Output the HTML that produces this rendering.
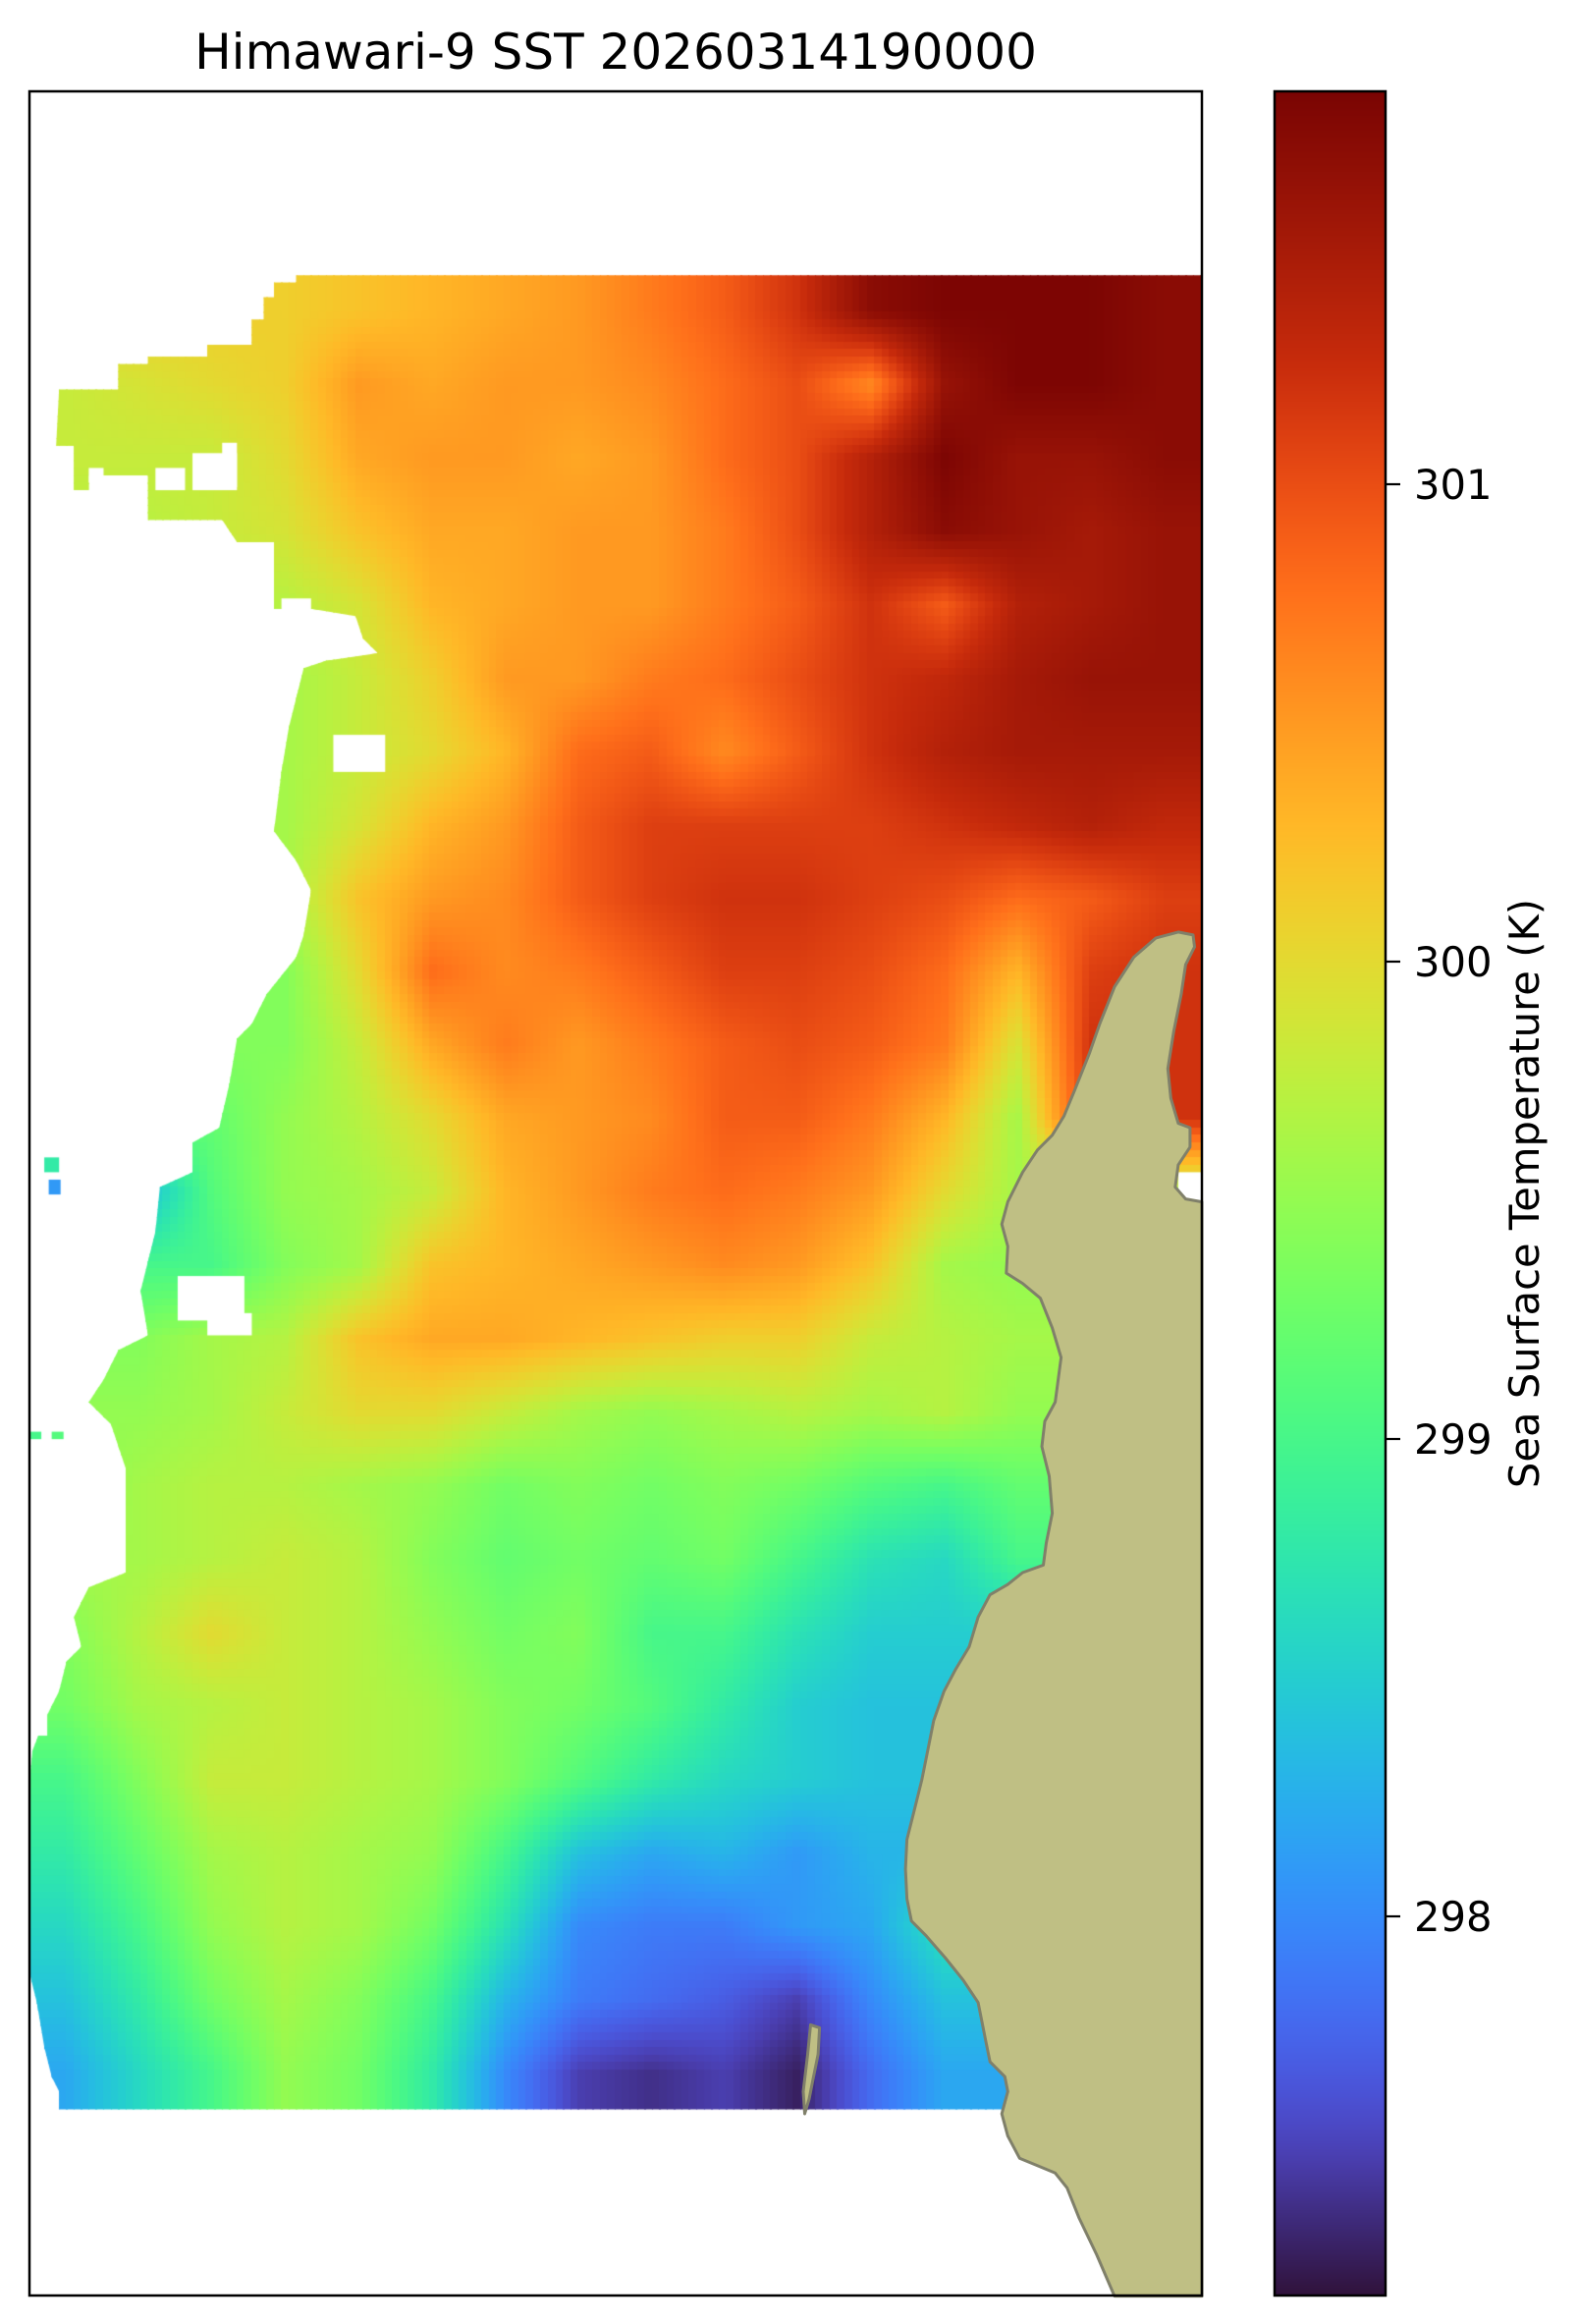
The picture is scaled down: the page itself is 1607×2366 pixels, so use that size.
<!DOCTYPE html>
<html><head><meta charset="utf-8">
<style>
html,body{margin:0;padding:0;background:#fff;}
#wrap{position:relative;width:1607px;height:2366px;overflow:hidden;}
canvas,svg{position:absolute;left:0;top:0;}
</style></head>
<body><div id="wrap">
<canvas id="c" width="1607" height="2366"></canvas>
<svg id="s" width="1607" height="2366" viewBox="0 0 1607 2366" xmlns="http://www.w3.org/2000/svg">
<g id="land"></g>
<rect x="30" y="93" width="1194" height="2244" fill="none" stroke="#000" stroke-width="2.5"/>
<rect x="1298" y="93" width="113" height="2244" fill="none" stroke="#000" stroke-width="2.5"/>
<g stroke="#000" stroke-width="2.2">
<line x1="1411" y1="493" x2="1426" y2="493"/>
<line x1="1411" y1="979" x2="1426" y2="979"/>
<line x1="1411" y1="1465" x2="1426" y2="1465"/>
<line x1="1411" y1="1951" x2="1426" y2="1951"/>
</g>
<g font-family="'DejaVu Sans','Liberation Sans',sans-serif" font-size="41.7" fill="#000">
<text x="1440" y="508">301</text>
<text x="1440" y="994">300</text>
<text x="1440" y="1480">299</text>
<text x="1440" y="1966">298</text>
<text transform="translate(1567,1215) rotate(-90)" text-anchor="middle">Sea Surface Temperature (K)</text>
</g>
<text x="627" y="70" text-anchor="middle" font-family="'DejaVu Sans','Liberation Sans',sans-serif" font-size="50" fill="#000">Himawari-9 SST 20260314190000</text>
</svg>
</div>
<script>
var S=1.5095;
function X(d){return 30+(d-20)*S;}
function Y(d){return 93+(d-61)*S;}
var vmin=297.21,vmax=301.82;
function poly(t){
var r=0.13572138+t*(4.61539260+t*(-42.66032258+t*(132.13108234+t*(-152.94239396+t*59.28637943))));
var g=0.09140261+t*(2.19418839+t*(4.84296658+t*(-14.18503333+t*(4.27729857+t*2.82956604))));
var b=0.10667330+t*(12.64194608+t*(-60.58204836+t*(110.36276771+t*(-89.90310912+t*27.34824973))));
return [r*255,g*255,b*255];}
function turbo(t){t=Math.max(0,Math.min(1,t));var c;
 if(t>0.88){var p=poly(0.88),a=(t-0.88)/0.12;c=[p[0]+(122-p[0])*a,p[1]+(4-p[1])*a,p[2]+(3-p[2])*a];}
 else if(t<0.06){var p=poly(0.06),a=t/0.06;c=[48+(p[0]-48)*a,18+(p[1]-18)*a,59+(p[2]-59)*a];}
 else c=poly(t);
 function k(v){return Math.max(0,Math.min(255,Math.round(v)));}
 return 'rgb('+k(c[0])+','+k(c[1])+','+k(c[2])+')';}
function col(v){return turbo((v-vmin)/(vmax-vmin));}
var N=null;
var G=[
[N,N,N,300.1,300.2,300.3,300.4,300.5,300.7,300.9,301.2,301.7,301.8,301.8,301.8,301.7],
[299.8,299.9,300.0,300.1,300.5,300.4,300.5,300.5,300.6,300.8,301.0,300.6,301.6,301.8,301.8,301.7],
[299.8,299.8,N,300.0,300.4,300.5,300.5,300.4,300.5,300.8,301.0,301.4,301.8,301.6,301.6,301.7],
[N,299.7,299.8,299.9,300.2,300.4,300.4,300.5,300.5,300.7,301.0,301.4,301.7,301.6,301.5,301.6],
[N,N,N,299.7,299.9,300.3,300.4,300.5,300.5,300.7,300.9,301.2,300.9,301.4,301.5,301.6],
[N,N,N,299.6,299.8,300.1,300.5,300.5,300.7,300.8,301.0,301.2,301.3,301.5,301.6,301.6],
[N,N,N,299.6,299.8,300.0,300.3,300.8,300.9,300.6,300.9,301.2,301.4,301.5,301.5,301.5],
[N,N,N,299.6,299.9,300.3,300.5,300.9,301.1,301.1,301.1,301.1,301.2,301.3,301.4,301.3],
[N,N,N,299.6,300.2,300.5,300.6,300.9,301.1,301.2,301.2,301.1,301.0,300.8,300.9,301.1],
[N,N,N,299.4,300.0,300.8,300.6,300.7,300.9,301.1,301.1,301.0,300.8,300.3,301.1,301.2],
[N,N,N,299.4,299.8,300.4,300.7,300.5,300.7,300.9,301.0,300.9,300.7,299.9,301.2,301.2],
[N,N,299.2,299.5,299.7,300.0,300.4,300.5,300.6,300.9,300.9,300.7,300.3,299.6,301.2,301.2],
[298.3,N,299.1,299.5,299.6,299.8,300.3,300.5,300.7,300.8,300.7,300.5,300.0,299.6],
[N,299.0,N,299.4,299.6,300.2,300.3,300.4,300.5,300.6,300.5,300.2,299.6,299.5],
[N,299.4,299.6,299.7,300.2,300.4,300.4,300.3,300.2,300.1,300.1,299.8,299.7,299.6],
[N,299.5,299.6,299.8,300.0,300.0,299.8,299.6,299.5,299.6,299.7,299.6,299.7,299.5],
[299.4,299.6,299.7,299.7,299.6,299.5,299.3,299.4,299.3,299.4,299.3,299.1,299.0,299.2],
[N,299.6,299.7,299.8,299.7,299.4,299.2,299.3,299.2,299.3,299.0,298.7,298.6,299.0],
[299.4,299.7,300.0,299.8,299.7,299.5,299.3,299.4,299.0,299.0,298.7,298.5,298.5],
[299.3,299.6,299.7,299.8,299.7,299.6,299.4,299.3,299.1,298.8,298.5,298.4],
[299.0,299.4,299.8,299.8,299.7,299.6,299.4,299.1,298.8,298.6,298.5,298.4],
[298.8,299.2,299.6,299.7,299.6,299.5,299.0,298.4,298.2,298.3,298.1,298.3],
[298.6,299.0,299.5,299.7,299.6,299.3,298.7,298.0,297.9,297.9,298.1,298.2,298.7],
[298.4,298.8,299.3,299.6,299.4,299.0,298.3,297.9,297.8,297.7,297.5,298.0,298.4],
[298.2,298.6,299.0,299.5,299.3,298.8,298.0,297.5,297.4,297.5,297.3,297.8,298.2]
];
for(var j=0;j<G.length;j++){var r=G[j];var out=[];
 for(var i=0;i<16;i++){var v=r[i];
  if(v==null){var best=null,bd=99;for(var k=0;k<r.length;k++){if(r[k]!=null&&Math.abs(k-i)<bd){bd=Math.abs(k-i);best=r[k];}}v=best;}
  out.push(v);} G[j]=out;}
function val(dx,dy){
 var fi=(dx-20)/49.4-0.5, fj=(dy-185)/49.5-0.5;
 fi=Math.max(0,Math.min(15,fi)); fj=Math.max(0,Math.min(24,fj));
 var i0=Math.floor(fi),j0=Math.floor(fj),i1=Math.min(15,i0+1),j1=Math.min(24,j0+1);
 var a=fi-i0,b=fj-j0;
 return G[j0][i0]*(1-a)*(1-b)+G[j0][i1]*a*(1-b)+G[j1][i0]*(1-a)*b+G[j1][i1]*a*b;}
var cv=document.getElementById('c');var ctx=cv.getContext('2d');
var mask=[[200,185],[811,185],[811,1422],[40,1422],[40,1410],[35,1400],[30,1380],[25,1350],[20,1330],[20,1200],[22,1180],[30,1160],[40,1140],[45,1120],[55,1110],[50,1090],[60,1070],[85,1060],[85,1030],[85,990],[75,960],[60,945],[70,930],[80,910],[100,900],[95,870],[100,850],[105,830],[108,800],[130,790],[130,770],[148,760],[155,730],[160,700],[170,690],[180,670],[200,645],[205,630],[210,600],[200,580],[185,560],[190,520],[195,490],[200,470],[205,450],[220,445],[255,440],[245,430],[240,415],[210,410],[185,410],[185,365],[160,365],[150,350],[100,350],[100,320],[60,320],[60,330],[50,330],[50,300],[38,300],[40,262],[80,262],[80,245],[100,245],[100,240],[140,240],[140,232],[170,232],[170,215],[178,215],[178,200],[185,200],[185,190],[200,190]];
ctx.save();ctx.beginPath();
mask.forEach(function(p,k){var x=X(p[0]),y=Y(p[1]);if(k)ctx.lineTo(x,y);else ctx.moveTo(x,y);});
ctx.closePath();ctx.clip();
var B=7.55;
for(var y=Y(185);y<Y(1422)+1;y+=B){for(var x=X(20);x<X(811)+1;x+=B){
 var dx=(x+B/2-30)/S+20,dy=(y+B/2-93)/S+61;
 ctx.fillStyle=col(val(dx,dy));ctx.fillRect(Math.floor(x),Math.floor(y),Math.ceil(B)+1,Math.ceil(B)+1);}}
ctx.restore();
ctx.fillStyle='#fff';
[[105,315,20,15],[130,305,30,25],[60,315,10,10],[150,298,10,30],[225,495,35,25],[190,403,20,10],[120,860,45,30],[140,885,30,15],[35,1075,15,25],[20,1150,12,20],[795,790,16,20]].forEach(function(r){
 ctx.fillRect(X(r[0]),Y(r[1]),r[2]*S,r[3]*S);});
[[30,780,10,10,298.8],[33,795,8,10,298.1],[20,965,8,5,299.0],[35,965,8,5,299.1]].forEach(function(r){
 ctx.fillStyle=col(r[4]);ctx.fillRect(X(r[0]),Y(r[1]),r[2]*S,r[3]*S);});
for(var yy=93;yy<2337;yy++){var v=vmax-(yy-93)/2244*(vmax-vmin);ctx.fillStyle=col(v);ctx.fillRect(1298,yy,113,1.2);}
var land=[[805,630],[795,628],[780,632],[765,645],[752,665],[742,690],[735,710],[725,735],[718,752],[710,765],[700,775],[690,790],[680,810],[676,825],[680,840],[679,858],[690,865],[702,875],[710,895],[716,915],[712,945],[705,958],[703,975],[708,995],[710,1020],[706,1040],[704,1055],[690,1060],[680,1068],[668,1075],[660,1090],[654,1110],[645,1125],[637,1140],[630,1160],[626,1180],[622,1200],[617,1220],[612,1240],[611,1260],[612,1280],[615,1295],[625,1305],[638,1320],[650,1335],[660,1350],[665,1375],[668,1390],[678,1400],[680,1410],[676,1425],[680,1440],[688,1455],[700,1460],[712,1465],[720,1475],[728,1495],[740,1520],[752,1548],[811,1548],[811,810],[800,808],[793,800],[795,785],[803,773],[803,760],[795,757],[790,740],[788,720],[792,695],[797,670],[800,650],[806,638]];
var isl=[[547,1365],[553,1367],[552,1385],[549,1400],[546,1415],[543,1425],[542,1410],[545,1385]];
function pts(a){return a.map(function(p){return X(p[0]).toFixed(1)+','+Y(p[1]).toFixed(1);}).join(' ');}
var lg=document.getElementById('land');
lg.innerHTML='<polygon points="'+pts(land)+'" fill="#bfbf84" stroke="#80806a" stroke-width="3" stroke-linejoin="round"/>'+
'<polygon points="'+pts(isl)+'" fill="#bfbf84" stroke="#80806a" stroke-width="3" stroke-linejoin="round"/>';
</script>
</body></html>
